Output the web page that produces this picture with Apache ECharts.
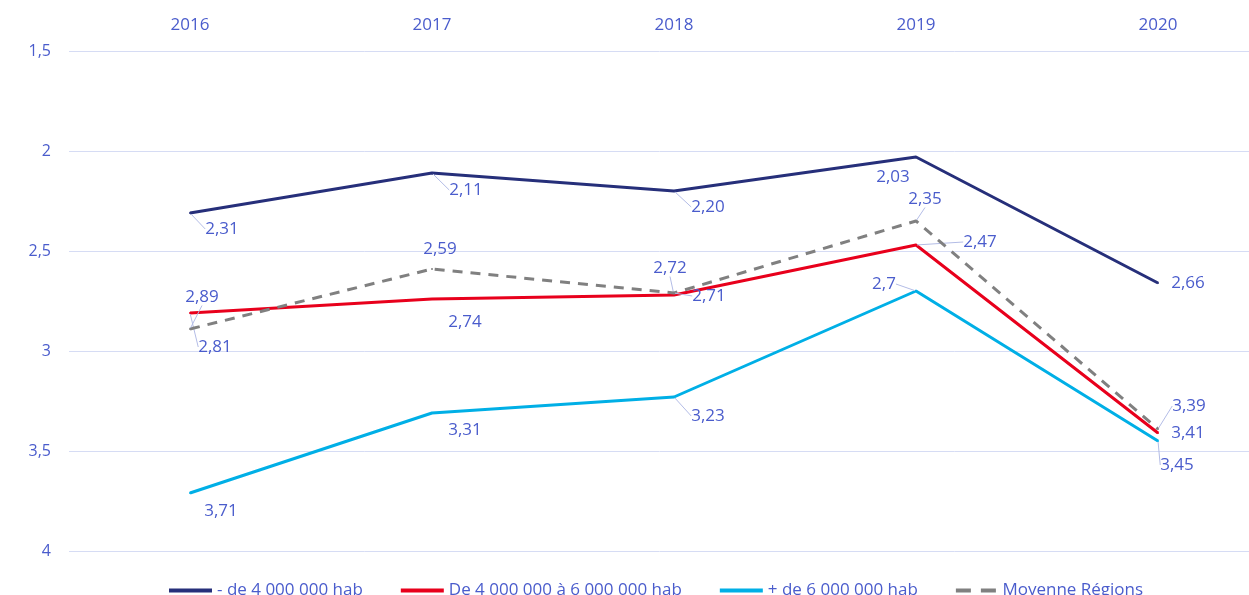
<!DOCTYPE html>
<html>
<head>
<meta charset="utf-8">
<script src="https://cdn.jsdelivr.net/npm/echarts@6/dist/echarts.min.js"></script>
<style>
  html, body { margin: 0; padding: 0; background: #fff; }
</style>
</head>
<body>
<div id="line-chart" style="width: 1249px; height: 595px"></div>
<script>
const years = ["2016", "2017", "2018", "2019", "2020"];
const yTicks = [1.5, 2, 2.5, 3, 3.5, 4];

const moins4M = [2.31, 2.11, 2.2, 2.03, 2.66];
const de4a6M = [2.81, 2.74, 2.72, 2.47, 3.41];
const plus6M = [3.71, 3.31, 3.23, 2.7, 3.45];
const moyenne = [2.89, 2.59, 2.71, 2.35, 3.39];

// label offsets from each point (dx, dy) and whether a leader line is drawn
const labelOffsets = [
  [[32, 16], [34, 17], [34, 16], [-23, 20], [30, 0]],
  [[25, 34], [33, 23], [-4, -27], [64, -3], [30, 0]],
  [[31, 18], [33, 17], [34, 19], [-32, -7], [19, 24]],
  [[12, -32], [8, -20], [35, 3], [9, -22], [31, -23]],
];
const leaders = [
  [true, true, true, false, false],
  [true, false, true, true, false],
  [false, false, true, true, true],
  [true, false, true, true, true],
];

const textBlue = "#4a5ccc";
const font = "'Open Sans', 'Noto Sans', sans-serif";
const solidIcon = "path://M0 0H43V4H0Z";
const dashIcon = "path://M0 0H15V4H0ZM25 0H40V4H25Z";

function fmt(v, fixed) {
  return (fixed ? v.toFixed(2) : String(v)).replace(".", ",");
}

function makeSeries(name, values, color, idx, dashed, fixed) {
  return {
    name: name,
    type: "line",
    data: values.map((v, i) => ({
      value: v,
      labelLine: { show: leaders[idx][i] },
    })),
    color: color,
    symbol: "circle",
    symbolSize: 2,
    showSymbol: true,
    lineStyle: { width: 3, color: color, type: dashed ? [10, 8] : "solid" },
    itemStyle: { color: color },
    label: {
      show: true,
      position: "inside",
      color: textBlue,
      fontFamily: font,
      fontSize: 17,
      formatter: (p) => fmt(p.value, fixed),
    },
    labelLine: {
      show: true,
      lineStyle: { color: "#b3bce6", width: 1 },
    },
    labelLayout: (p) => ({
      dx: labelOffsets[idx][p.dataIndex][0],
      dy: labelOffsets[idx][p.dataIndex][1],
    }),
    emphasis: { disabled: true },
    z: dashed ? 3 : 2,
  };
}

const myChart = echarts.init(document.getElementById("line-chart"));

myChart.setOption({
  animation: false,
  textStyle: { fontFamily: font },
  grid: { left: 69, top: 51, width: 1210, height: 500, outerBoundsMode: "none", containLabel: false },
  legend: {
    data: [
      { name: "- de 4 000 000 hab", icon: solidIcon },
      { name: "De 4 000 000 à 6 000 000 hab", icon: solidIcon },
      { name: "+ de 6 000 000 hab", icon: solidIcon },
      { name: "Moyenne Régions", icon: dashIcon },
    ],
    top: 577,
    left: 164,
    itemWidth: 43,
    itemHeight: 4,
    itemGap: 38,
    textStyle: { color: textBlue, fontSize: 17, fontFamily: font },
  },
  xAxis: {
    type: "category",
    position: "top",
    data: years,
    axisLine: { show: false },
    axisTick: { show: false },
    axisLabel: { color: textBlue, fontSize: 17, margin: 17 },
  },
  yAxis: {
    type: "value",
    inverse: true,
    min: yTicks[0],
    max: yTicks[yTicks.length - 1],
    interval: 0.5,
    axisLine: { show: false },
    axisTick: { show: false },
    axisLabel: {
      color: textBlue,
      fontSize: 16,
      margin: 18,
      formatter: (v) => String(v).replace(".", ","),
    },
    splitLine: { lineStyle: { color: "#d6dcf4", width: 1 } },
  },
  series: [
    makeSeries("- de 4 000 000 hab", moins4M, "#262f7a", 0, false, true),
    makeSeries("De 4 000 000 à 6 000 000 hab", de4a6M, "#e8001c", 1, false, false),
    makeSeries("+ de 6 000 000 hab", plus6M, "#00afe6", 2, false, false),
    makeSeries("Moyenne Régions", moyenne, "#808080", 3, true, false),
  ],
});

window.addEventListener("resize", () => {
  myChart.resize();
});
</script>
</body>
</html>
